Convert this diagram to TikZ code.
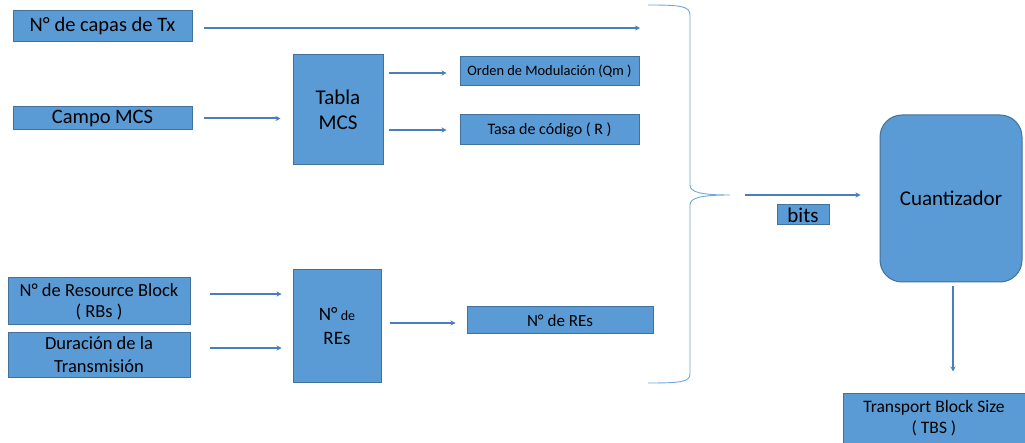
\documentclass[tikz,border=0pt]{standalone}
\usepackage{fontspec}
\setmainfont{Carlito}
\usetikzlibrary{arrows.meta}
\definecolor{boxfill}{HTML}{5B9BD5}
\definecolor{boxline}{HTML}{41719C}
\definecolor{arrowcol}{HTML}{4A7EBB}
\definecolor{bracecol}{HTML}{6FA8DC}
\tikzset{
  box/.style={draw=boxline, fill=boxfill, line width=1pt, inner sep=0pt, align=center, text=black},
  arr/.style={draw=arrowcol, line width=2pt, -{Stealth[length=5pt,width=5pt]}},
  bracepath/.style={draw=bracecol, line width=0.9pt}
}
\newcommand{\fs}[1]{\fontsize{#1}{#1}\selectfont}
\begin{document}
\begin{tikzpicture}[x=1pt,y=-1pt]
\clip (0,0) rectangle (1025,443);
\fill[white] (0,0) rectangle (1025,443);

% inputs
\node[box, minimum width=179, minimum height=31, font=\fs{20.5}] (capas) at (102.5,26.5) {N° de capas de Tx};
\node[box, minimum width=179, minimum height=23, font=\fs{20.5}] (campo) at (102.5,118.5) {Campo MCS};
\node[box, minimum width=182, minimum height=47, font=\fontsize{18.5}{21}\selectfont] (rbs) at (99,301.5) {N° de Resource Block\\( RBs )};
\node[box, minimum width=182, minimum height=44, font=\fontsize{18.5}{23}\selectfont] (dur) at (99,355) {Duración de la\\Transmisión};

% processing blocks
\node[box, minimum width=90, minimum height=110, font=\fontsize{21}{25}\selectfont] (tabla) at (338,110) {Tabla\\MCS};
\node[box, minimum width=88, minimum height=112, font=\fontsize{19}{24}\selectfont] (res) at (337,326) {N°{\fs{14} de}\\REs};

% outputs of the blocks
\node[box, minimum width=179, minimum height=29, font=\fs{14.4}] (orden) at (549.5,71) {Orden de Modulación (Qm )};
\node[box, minimum width=179, minimum height=30, font=\fs{16}] (tasa) at (549.5,130) {Tasa de código ( R )};
\node[box, minimum width=186, minimum height=27, font=\fs{17}] (nres) at (560,320.5) {N° de REs};

% quantizer and result
\node[box, rounded corners=22pt, minimum width=142, minimum height=167, font=\fs{21}] (cuant) at (951,198.5) {Cuantizador};
\node[box, minimum width=52, minimum height=20, font=\fs{21}] (bits) at (803,215) {bits};
\node[box, minimum width=182, minimum height=50, font=\fontsize{17.5}{21}\selectfont] (tbs) at (934,418) {Transport Block Size\\( TBS )};

% brace gathering all quantities
\coordinate (tip) at (730,195);
\coordinate (capasend) at (640,28);
\draw[bracepath] (648,5) .. controls (680,5) and (690,6) .. (690,15) -- (690,185)
  .. controls (690,192) and (700,195) .. (tip)
  .. controls (700,195) and (690,198) .. (690,205) -- (690,374)
  .. controls (690,382) and (680,383) .. (648,383);

% connectors
\draw[arr, shorten <=11pt] (capas.east |- capasend) -- (capasend);
\draw[arr, shorten <=11pt, shorten >=12pt] (campo.east) -- (campo.east -| tabla.west);
\draw[arr, shorten <=5pt, shorten >=13pt] ([yshift=-2pt]tabla.east |- orden.west) -- ([yshift=-2pt]orden.west);
\draw[arr, shorten <=5pt, shorten >=13pt] (tabla.east |- tasa.west) -- (tasa.west);
\draw[arr, shorten <=19pt, shorten >=11pt] ([yshift=7.5pt]rbs.east) -- ([yshift=7.5pt]rbs.east -| res.west);
\draw[arr, shorten <=19pt, shorten >=11pt] ([yshift=7pt]dur.east) -- ([yshift=7pt]dur.east -| res.west);
\draw[arr, shorten <=8pt, shorten >=11pt] ([yshift=-2.5pt]res.east |- nres.west) -- ([yshift=-2.5pt]nres.west);
\draw[arr, shorten <=15pt, shorten >=19pt] (tip) -- (tip -| cuant.west);
\draw[arr, shorten <=4pt, shorten >=21pt] ([xshift=2pt]cuant.south) -- ([xshift=2pt]cuant.south |- tbs.north);
\end{tikzpicture}
\end{document}
